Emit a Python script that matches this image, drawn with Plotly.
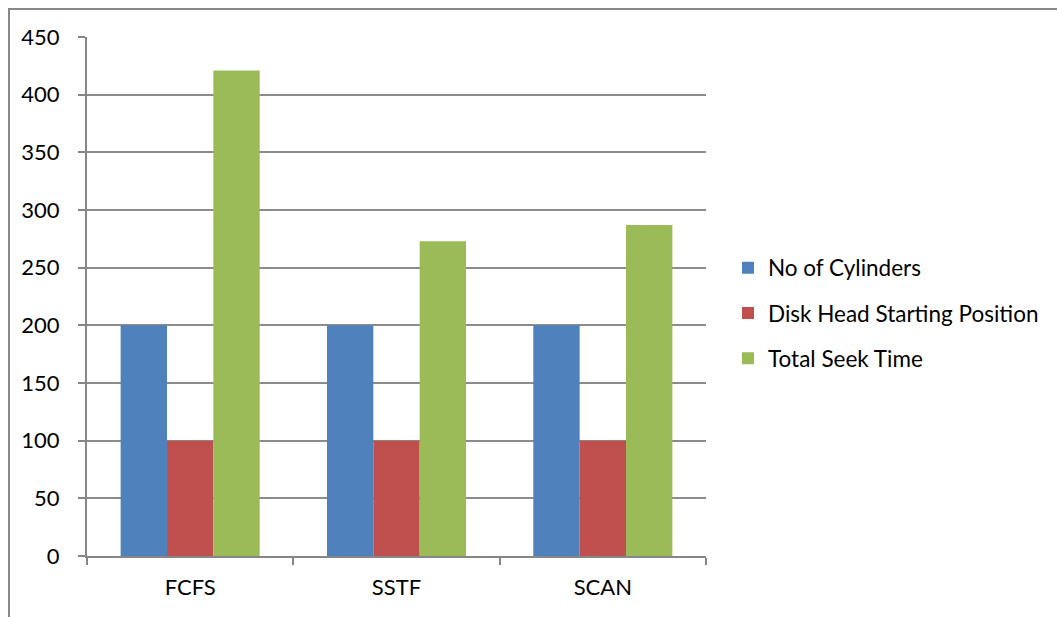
import plotly.graph_objects as go

categories = ["FCFS", "SSTF", "SCAN"]
no_of_cylinders = [200, 200, 200]
disk_head_start = [100, 100, 100]
total_seek_time = [421, 273, 287]
series_names = ["No of Cylinders", "Disk Head Starting Position", "Total Seek Time"]
colors = ["#4F81BD", "#C0504D", "#9BBB59"]
y_ticks = [0, 50, 100, 150, 200, 250, 300, 350, 400, 450]

W, H = 1057, 617
L, R, T, B = 87, 706, 37, 556
pw, ph = R - L, B - T

FONT = "Lato"

fig = go.Figure()
for i, (name, vals) in enumerate(zip(series_names, [no_of_cylinders, disk_head_start, total_seek_time])):
    fig.add_trace(go.Bar(
        x=categories, y=vals, name=name, legendgroup=f"g{i}",
        marker=dict(color=colors[i], line=dict(width=0)),
    ))

fig.update_layout(
    width=W, height=H,
    margin=dict(l=L, r=W - R, t=T, b=H - B, pad=0),
    paper_bgcolor="white", plot_bgcolor="white",
    barmode="group", bargap=0.326, bargroupgap=0,
    font=dict(family=FONT, size=22, color="#000000"),
    showlegend=True,
    legend=dict(
        x=(728 - L) / pw, y=(B - 313) / ph, xanchor="left", yanchor="middle",
        font=dict(family=FONT, size=22.5, color="#000000"),
        tracegroupgap=13, itemwidth=30, bgcolor="rgba(0,0,0,0)",
    ),
    xaxis=dict(
        showline=True, linecolor="#868686", linewidth=2,
        ticks="outside", tickson="boundaries", ticklen=7, tickcolor="#868686", tickwidth=2,
        tickfont=dict(family=FONT, size=22, color="#000000"),
        ticklabelstandoff=11,
        showgrid=False,
    ),
    yaxis=dict(
        range=[0, 450], tickvals=y_ticks,
        showline=True, linecolor="#868686", linewidth=2,
        ticks="outside", ticklen=7, tickcolor="#868686", tickwidth=2,
        showgrid=True, gridcolor="#8C8C8C", gridwidth=1.5,
        tickfont=dict(family=FONT, size=22, color="#000000"),
        ticklabelstandoff=14,
        zeroline=False,
    ),
    shapes=[dict(
        type="rect", xref="paper", yref="paper",
        x0=(9 - L) / pw, x1=(1070 - L) / pw,
        y0=(B - 630) / ph, y1=(B - 9) / ph,
        line=dict(color="#888888", width=2), fillcolor="rgba(0,0,0,0)", layer="below",
    )],
)

fig.write_html("out.html")
